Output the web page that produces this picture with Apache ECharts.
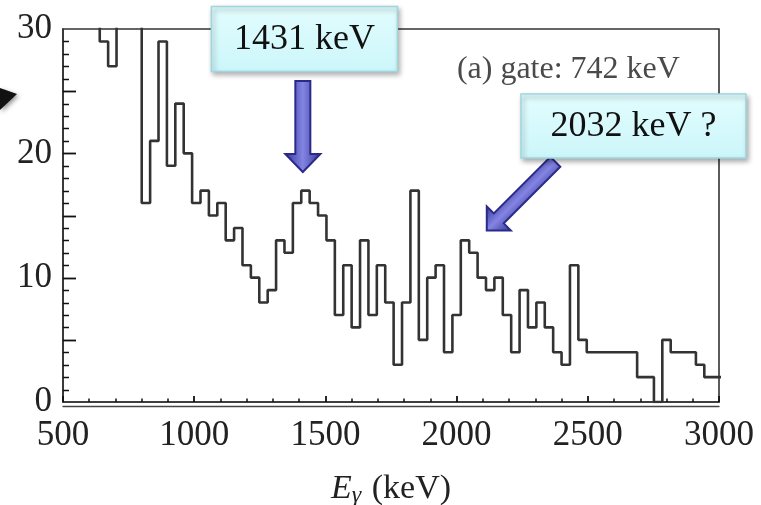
<!DOCTYPE html>
<html>
<head>
<meta charset="utf-8">
<script src="https://cdn.jsdelivr.net/npm/echarts@6/dist/echarts.min.js"></script>
<style>
  html, body { margin: 0; padding: 0; background: #ffffff; }
  #chart { width: 761px; height: 505px; }
</style>
</head>
<body>
<div id="chart"></div>
<script>
// Gamma spectrum gated on 742 keV: counts per 32 keV bin
const binStart = 608;   // lower edge of the first bin (keV)
const binWidth = 32;    // keV per bin
const counts = [
  33, 29, 27, 34, 38, 35, 16, 21, 29, 19, 24, 20, 16, 17, 15, 16,
  13, 14, 11, 10, 8, 9, 13, 12, 16, 17, 16, 15, 13, 7, 11, 6,
  13, 7, 11, 8, 3, 8, 17, 5, 10, 11, 4, 7, 13, 12, 10, 9,
  10, 7, 4, 9, 6, 8, 6, 4, 3, 11, 5, 4, 4, 4, 4, 4,
  4, 2, 2, 0, 5, 4, 4, 4, 3, 2, 2
];

// Axis ranges and labelled ticks
const xRange = [500, 3000];
const xTickStep = 500;
const yRange = [0, 30];
const yTickStep = 5;
const yLabelStep = 10;
const yMinorStep = 1;

// Annotations (anchored in data coordinates)
const peakLabels = [
  { text: '1431 keV',   center: [1420, 29.2], size: [186, 65], tip: [1414, 18.5], angle: 0 },
  { text: '2032 keV ?', center: [2674, 22.2], size: [225, 64], tip: [2115, 13.8], angle: -Math.PI / 4 }
];
const gateLabel = { text: '(a) gate: 742 keV', at: [2851, 26.7] };

const serif = '"Liberation Serif", "Times New Roman", serif';

// Step-histogram points: each bin's lower edge, plus the closing upper edge
const histPoints = counts.map((c, i) => [binStart + i * binWidth, c]);
histPoints.push([binStart + counts.length * binWidth, counts[counts.length - 1]]);

// Count-axis tick values (every count; every 5th is a major tick)
const yTickValues = [];
for (let v = yRange[0] + yMinorStep; v < yRange[1]; v += yMinorStep) yTickValues.push(v);

const chart = echarts.init(document.getElementById('chart'), null, { renderer: 'canvas' });

const tickStyle = { color: '#111111', width: 1.8 };
const minorStyle = { color: '#111111', width: 1.5 };

const option = {
  backgroundColor: '#ffffff',
  animation: false,
  grid: {
    left: 63, right: 42, top: 29, bottom: 103,
    outerBoundsMode: 'none',
    containLabel: false,
    show: true, borderColor: '#333333', borderWidth: 1.6, backgroundColor: 'transparent'
  },
  xAxis: [{
    type: 'value', min: xRange[0], max: xRange[1], interval: xTickStep,
    axisLine: { show: true, onZero: false, lineStyle: { color: '#333333', width: 1.6 } },
    axisTick: { show: true, inside: true, length: 6, lineStyle: tickStyle },
    minorTick: { show: true, splitNumber: 5, length: 3.5, lineStyle: minorStyle },
    splitLine: { show: false },
    axisLabel: { fontFamily: serif, fontSize: 35, color: '#222222', margin: 16, formatter: v => String(v) },
    name: '{e|E}{g|γ}{k| (keV)}',
    nameLocation: 'middle',
    nameGap: 68,
    nameTextStyle: {
      rich: {
        e: { fontFamily: serif, fontSize: 34, fontStyle: 'italic', color: '#222222' },
        g: { fontFamily: serif, fontSize: 24, fontStyle: 'italic', color: '#222222', padding: [14, 2, 0, 0] },
        k: { fontFamily: serif, fontSize: 34, color: '#222222' }
      }
    }
  }, {
    // second rule just under the frame bottom
    type: 'value', min: xRange[0], max: xRange[1], position: 'bottom', offset: 4,
    axisLine: { show: true, onZero: false, lineStyle: { color: '#444444', width: 1.4 } },
    axisTick: { show: false }, axisLabel: { show: false }, splitLine: { show: false }
  }],
  yAxis: {
    type: 'value', min: yRange[0], max: yRange[1], interval: yTickStep,
    axisLine: { show: true, lineStyle: { color: '#333333', width: 1.6 } },
    axisTick: { show: false },
    splitLine: { show: false },
    axisLabel: {
      fontFamily: serif, fontSize: 35, color: '#222222', margin: 11, padding: [0, 0, 6, 0],
      formatter: v => (v % yLabelStep === 0 ? String(v) : '')
    }
  },
  series: [{
    type: 'line',
    xAxisIndex: 0,
    yAxisIndex: 0,
    data: histPoints,
    step: 'end',
    showSymbol: false,
    clip: true,
    lineStyle: { color: '#333333', width: 2.6 }
  }, {
    // inward tick marks along the count axis
    type: 'custom',
    xAxisIndex: 0,
    yAxisIndex: 0,
    silent: true,
    data: yTickValues,
    renderItem: (params, api) => {
      const v = api.value(0);
      const major = v % yTickStep === 0;
      const p = api.coord([xRange[0], v]);
      const y = Math.round(p[1]) + 0.5;
      return {
        type: 'line',
        shape: { x1: p[0], y1: y, x2: p[0] + (major ? 13 : 6), y2: y },
        style: major ? { stroke: tickStyle.color, lineWidth: tickStyle.width }
                     : { stroke: minorStyle.color, lineWidth: minorStyle.width }
      };
    }
  }]
};

chart.setOption(option);

// Block arrow in local coordinates: tip at origin, shaft extending upward
function arrowShape(len, shaftHalf, headLen, headHalf) {
  return [
    [-shaftHalf, -len], [shaftHalf, -len], [shaftHalf, -headLen], [headHalf, -headLen],
    [0, 0], [-headHalf, -headLen], [-shaftHalf, -headLen]
  ];
}

const arrowFill = new echarts.graphic.LinearGradient(0, 0, 1, 0, [
  { offset: 0, color: '#34349a' },
  { offset: 0.5, color: '#8484e2' },
  { offset: 1, color: '#34349a' }
]);

const toPx = p => chart.convertToPixel({ xAxisIndex: 0, yAxisIndex: 0 }, p);
const graphics = [];

// gate label
const g = toPx(gateLabel.at);
graphics.push({
  type: 'text', x: g[0], y: g[1], z: 50,
  style: {
    text: gateLabel.text, fill: '#4a4a4a', font: '32px ' + serif,
    textAlign: 'right', textVerticalAlign: 'middle'
  }
});

const arrowSizes = [
  { len: 91, shaftHalf: 7.5, headLen: 18, headHalf: 17.5 },
  { len: 97, shaftHalf: 7, headLen: 17, headHalf: 17 }
];

peakLabels.forEach((lab, k) => {
  const c = toPx(lab.center);
  const t = toPx(lab.tip);
  const a = arrowSizes[k];
  graphics.push({
    type: 'group', x: t[0], y: t[1], rotation: lab.angle, z: 60,
    children: [{
      type: 'polygon',
      shape: { points: arrowShape(a.len, a.shaftHalf, a.headLen, a.headHalf) },
      style: { fill: arrowFill, stroke: '#2a2a88', lineWidth: 2 }
    }]
  });
  graphics.push({
    type: 'rect', z: 70,
    shape: { x: c[0] - lab.size[0] / 2, y: c[1] - lab.size[1] / 2, width: lab.size[0], height: lab.size[1] },
    style: {
      fill: new echarts.graphic.LinearGradient(0, 0, 0, 1, [
        { offset: 0, color: '#e2fdfe' },
        { offset: 1, color: '#ccf6fa' }
      ]),
      stroke: '#9fd6dd', lineWidth: 1.5,
      shadowBlur: 5, shadowOffsetX: 2, shadowOffsetY: 3, shadowColor: 'rgba(0,0,0,0.35)'
    }
  });
  graphics.push({
    type: 'text', x: c[0], y: c[1] + 1, z: 80,
    style: {
      text: lab.text, fill: '#111111', font: '36px ' + serif,
      textAlign: 'center', textVerticalAlign: 'middle'
    }
  });
});

// black arrowhead entering from the left margin
graphics.push({
  type: 'polygon', z: 60,
  shape: { points: [[0, 88], [17, 94], [0, 110]] },
  style: { fill: '#111111', shadowBlur: 4, shadowOffsetX: 2, shadowOffsetY: 2, shadowColor: 'rgba(0,0,0,0.4)' }
});

chart.setOption({ graphic: graphics });
</script>
</body>
</html>
